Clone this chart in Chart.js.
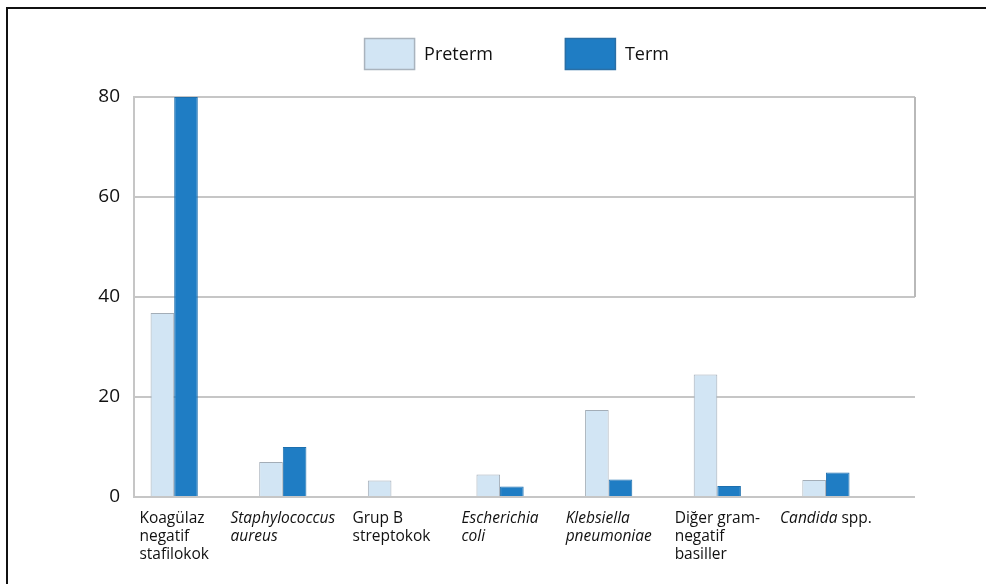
<!DOCTYPE html>
<html>
<head>
<meta charset="utf-8">
<script src="https://cdn.jsdelivr.net/npm/chart.js@4.4.1/dist/chart.umd.min.js"></script>
<style>
  body { margin: 0; background: #fff; }
  #wrap { position: relative; width: 986px; height: 584px; }
  #frame { position: absolute; left: 6px; top: 7px; right: -10px; bottom: -10px;
           border-left: 2px solid #111; border-top: 2px solid #111; pointer-events: none; }
</style>
</head>
<body>
<div id="wrap">
  <canvas id="chart" width="986" height="584"></canvas>
  <div id="frame"></div>
</div>
<script>
// categories, italic parts wrapped in _ _
const categories = [
  ["Koagülaz", "negatif", "stafilokok"],
  ["_Staphylococcus_", "_aureus_"],
  ["Grup B", "streptokok"],
  ["_Escherichia_", "_coli_"],
  ["_Klebsiella_", "_pneumoniae_"],
  ["Diğer gram-", "negatif", "basiller"],
  ["_Candida_ spp."]
];
const pretermValues = [36.8, 7, 3.3, 4.5, 17.4, 24.5, 3.4];
const termValues = [80, 10, 0, 2.1, 3.5, 2.2, 4.9];
const yTicks = [0, 20, 40, 60, 80];

const FONT = "'Open Sans', 'DejaVu Sans', sans-serif";
const TEXT = "#111";
const GRID = "#c6c6c6";

const toPoints = vals => vals.map((v, i) => ({ x: i, y: v }));

// split "_italic_ plain" into parts
function parts(line) {
  return line.split("_").map((t, i) => ({ t, italic: i % 2 === 1 })).filter(p => p.t);
}

function lineWidth(ctx, line, size) {
  let w = 0;
  parts(line).forEach(p => {
    ctx.font = (p.italic ? "italic " : "") + size + "px " + FONT;
    w += ctx.measureText(p.t).width;
  });
  return w;
}

// x category labels drawn under the axis
const xLabels = {
  id: "xLabels",
  afterDraw(chart) {
    const ctx = chart.ctx;
    const xs = chart.scales.x;
    const base = chart.chartArea.bottom;
    ctx.save();
    ctx.fillStyle = TEXT;
    ctx.textBaseline = "alphabetic";
    ctx.textAlign = "left";
    categories.forEach((lines, i) => {
      const cx = xs.getPixelForValue(i);
      const blockW = Math.max(...lines.map(l => lineWidth(ctx, l, 15.5)));
      const left = cx - blockW / 2;
      lines.forEach((line, j) => {
        let x = left;
        const y = base + 26 + j * 18;
        parts(line).forEach(p => {
          ctx.font = (p.italic ? "italic " : "") + "15.5px " + FONT;
          ctx.fillText(p.t, x, y);
          x += ctx.measureText(p.t).width;
        });
      });
    });
    ctx.restore();
  }
};

// legend with large boxes
const bigLegend = {
  id: "bigLegend",
  afterDraw(chart) {
    const ctx = chart.ctx;
    const area = chart.chartArea;
    const boxW = 51, boxH = 32, gap = 9, itemGap = 72;
    ctx.save();
    ctx.font = "18px " + FONT;
    const items = chart.data.datasets.map(ds => ({ ds, w: ctx.measureText(ds.label).width }));
    const total = items.reduce((s, it) => s + boxW + gap + it.w, 0) + itemGap * (items.length - 1);
    let x = (area.left + area.right) / 2 - total / 2 - 8;
    const top = 38;
    items.forEach(it => {
      ctx.fillStyle = it.ds.backgroundColor;
      ctx.fillRect(x, top, boxW, boxH);
      ctx.strokeStyle = it.ds.legendBorder;
      ctx.lineWidth = 1.5;
      ctx.strokeRect(x + 0.5, top + 0.5, boxW - 1, boxH - 1);
      ctx.fillStyle = TEXT;
      ctx.textBaseline = "middle";
      ctx.fillText(it.ds.label, x + boxW + gap, top + boxH / 2 + 1);
      x += boxW + gap + it.w + itemGap;
    });
    ctx.restore();
  }
};

// right edge of the box between 80 and 40
const rightEdge = {
  id: "rightEdge",
  beforeDatasetsDraw(chart) {
    const ctx = chart.ctx;
    const ys = chart.scales.y;
    const r = chart.chartArea.right;
    ctx.save();
    ctx.strokeStyle = "#b9b9b9";
    ctx.lineWidth = 2;
    ctx.beginPath();
    ctx.moveTo(r, ys.getPixelForValue(80));
    ctx.lineTo(r, ys.getPixelForValue(40));
    ctx.stroke();
    ctx.restore();
  }
};

new Chart(document.getElementById("chart"), {
  type: "bar",
  data: {
    datasets: [
      {
        label: "Preterm",
        data: toPoints(pretermValues),
        backgroundColor: "#d2e5f4",
        borderColor: "#a3adb7",
        legendBorder: "#a9b3bd",
        borderWidth: 1,
        barPercentage: 1,
        categoryPercentage: 0.53
      },
      {
        label: "Term",
        data: toPoints(termValues),
        backgroundColor: "#1f7dc4",
        borderColor: "#1d6fae",
        legendBorder: "#2a6fa6",
        borderWidth: 1,
        barPercentage: 1,
        categoryPercentage: 0.53
      }
    ]
  },
  options: {
    responsive: false,
    animation: false,
    layout: { padding: { top: 97, right: 71, bottom: 87, left: 0 } },
    plugins: { legend: { display: false }, tooltip: { enabled: false } },
    scales: {
      x: {
        type: "linear",
        offset: false,
        min: -0.37,
        max: 6.82,
        ticks: { display: false },
        grid: { display: false, drawOnChartArea: false },
        border: { display: false },
        afterFit(scale) { scale.height = 0; }
      },
      y: {
        min: 0,
        max: 80,
        afterBuildTicks(scale) { scale.ticks = yTicks.map(v => ({ value: v })); },
        afterFit(scale) { scale.width = 134; },
        ticks: { color: TEXT, padding: 14, font: { family: FONT, size: 19 } },
        grid: { color: GRID, lineWidth: 2, drawTicks: false },
        border: { display: true, color: GRID, width: 2 }
      }
    }
  },
  plugins: [xLabels, bigLegend, rightEdge]
});
</script>
</body>
</html>
